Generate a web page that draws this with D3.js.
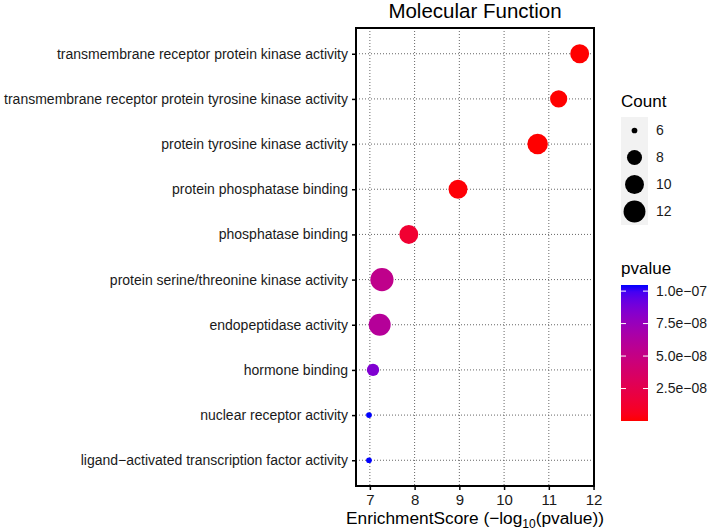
<!DOCTYPE html>
<html>
<head>
<meta charset="utf-8">
<script src="https://cdn.jsdelivr.net/npm/d3@7"></script>
<style>
  body { margin: 0; background: #fff; }
  svg text { font-family: "Liberation Sans", Arial, sans-serif; }
</style>
</head>
<body>
<div id="chart"></div>
<script>
const categories = [
    "transmembrane receptor protein kinase activity",
    "transmembrane receptor protein tyrosine kinase activity",
    "protein tyrosine kinase activity",
    "protein phosphatase binding",
    "phosphatase binding",
    "protein serine/threonine kinase activity",
    "endopeptidase activity",
    "hormone binding",
    "nuclear receptor activity",
    "ligand\u2212activated transcription factor activity"
];
const enrichmentScores = [11.69, 11.22, 10.75, 8.97, 7.87, 7.27, 7.22, 7.07, 6.98, 6.98];
const counts = [10, 9, 11, 10, 10, 13, 12, 7, 6, 6];

const xTicks = [7, 8, 9, 10, 11, 12];
const countBreaks = [6, 8, 10, 12];
const pvalueBreaks = [2.5e-8, 5.0e-8, 7.5e-8, 1.0e-7];
const pvalueLabels = ["2.5e\u221208", "5.0e\u221208", "7.5e\u221208", "1.0e\u221207"];

const data = categories.map((c, i) => ({
    term: c,
    score: enrichmentScores[i],
    count: counts[i],
    pvalue: Math.pow(10, -enrichmentScores[i])
}));

const W = 709, H = 530;
const panel = { left: 356, right: 594, top: 28, bottom: 486 };

const svg = d3.select("#chart").append("svg")
    .attr("width", W)
    .attr("height", H);

const x = d3.scaleLinear()
    .domain([6.69, 12.01])
    .range([panel.left, panel.right]);

const y = d3.scalePoint()
    .domain(categories)
    .range([panel.top, panel.bottom])
    .padding(0.57);

const pExtent = d3.extent(data, d => d.pvalue);
const color = d3.scaleLinear()
    .domain(pExtent)
    .range(["red", "blue"])
    .interpolate(d3.interpolateLab);

// size: ggplot area palette (1..6) on sqrt of rescaled count, then to px
const countMin = 6, countMax = 13;
const sizeOf = d3.scaleLinear()
    .domain([0, 1])
    .range([1, 6]);
const radius = c => 1.75 * sizeOf(Math.sqrt((c - countMin) / (countMax - countMin))) + 1.1;

// grid
const grid = svg.append("g");
grid.selectAll(".vgrid")
    .data(xTicks)
    .enter().append("line")
    .attr("x1", d => x(d)).attr("x2", d => x(d))
    .attr("y1", panel.top).attr("y2", panel.bottom)
    .attr("stroke", "#666")
    .attr("stroke-width", 1)
    .attr("stroke-dasharray", "1,2");

grid.selectAll(".hgrid")
    .data(categories)
    .enter().append("line")
    .attr("x1", panel.left).attr("x2", panel.right)
    .attr("y1", d => y(d)).attr("y2", d => y(d))
    .attr("stroke", "#666")
    .attr("stroke-width", 1)
    .attr("stroke-dasharray", "1,2");

// points
svg.append("g").selectAll("circle")
    .data(data)
    .enter().append("circle")
    .attr("cx", d => x(d.score))
    .attr("cy", d => y(d.term))
    .attr("r", d => radius(d.count))
    .attr("fill", d => color(d.pvalue));

// panel border
svg.append("rect")
    .attr("x", panel.left).attr("y", panel.top)
    .attr("width", panel.right - panel.left)
    .attr("height", panel.bottom - panel.top)
    .attr("fill", "none")
    .attr("stroke", "#000")
    .attr("stroke-width", 2);

// axes
const xAxis = svg.append("g")
    .attr("transform", `translate(0, ${panel.bottom})`)
    .call(d3.axisBottom(x).tickValues(xTicks).tickFormat(d3.format("d")).tickSize(4).tickPadding(4));
xAxis.select(".domain").remove();
xAxis.selectAll("line").attr("stroke", "#000").attr("stroke-width", 1.5);
xAxis.selectAll("text")
    .style("font-size", "15px")
    .attr("fill", "#1a1a1a");

const yAxis = svg.append("g")
    .attr("transform", `translate(${panel.left}, 0)`)
    .call(d3.axisLeft(y).tickSize(4).tickPadding(4));
yAxis.select(".domain").remove();
yAxis.selectAll("line").attr("stroke", "#000").attr("stroke-width", 1.5);
yAxis.selectAll("text")
    .style("font-size", "14px")
    .attr("fill", "#1a1a1a");

// title
svg.append("text")
    .attr("x", (panel.left + panel.right) / 2)
    .attr("y", 18)
    .attr("text-anchor", "middle")
    .style("font-size", "20.5px")
    .attr("fill", "#000")
    .text("Molecular Function");

// x axis title
const xt = svg.append("text")
    .attr("x", (panel.left + panel.right) / 2)
    .attr("y", 524)
    .attr("text-anchor", "middle")
    .style("font-size", "17.3px")
    .attr("fill", "#000");
xt.append("tspan").text("EnrichmentScore (\u2212log");
xt.append("tspan").attr("dy", 4).style("font-size", "12px").text("10");
xt.append("tspan").attr("dy", -4).text("(pvalue))");

// Count legend
const legX = 621;
svg.append("text")
    .attr("x", legX).attr("y", 107)
    .style("font-size", "17px")
    .text("Count");

const keyH = 27, keyTop = 117, keyW = 27;
svg.append("rect")
    .attr("x", legX).attr("y", keyTop)
    .attr("width", keyW).attr("height", keyH * countBreaks.length)
    .attr("fill", "#f2f2f2");

const keys = svg.append("g").selectAll("g")
    .data(countBreaks)
    .enter().append("g")
    .attr("transform", (d, i) => `translate(${legX + keyW / 2}, ${keyTop + keyH * i + keyH / 2})`);
keys.append("circle")
    .attr("r", d => radius(d))
    .attr("fill", "#000");
keys.append("text")
    .attr("x", keyW / 2 + 8)
    .attr("dy", "0.35em")
    .style("font-size", "14px")
    .attr("fill", "#1a1a1a")
    .text(d => d);

// pvalue colorbar
svg.append("text")
    .attr("x", legX).attr("y", 274)
    .style("font-size", "17px")
    .text("pvalue");

const barTop = 285, barBottom = 421, barW = 27;
const barY = d3.scaleLinear().domain(pExtent).range([barBottom, barTop]);

const grad = svg.append("defs").append("linearGradient")
    .attr("id", "pgrad")
    .attr("x1", 0).attr("y1", 1).attr("x2", 0).attr("y2", 0);
d3.range(0, 1.0001, 0.05).forEach(t => {
    const p = pExtent[0] + t * (pExtent[1] - pExtent[0]);
    grad.append("stop").attr("offset", t).attr("stop-color", color(p));
});
svg.append("rect")
    .attr("x", legX).attr("y", barTop)
    .attr("width", barW).attr("height", barBottom - barTop)
    .attr("fill", "url(#pgrad)");

const cTicks = svg.append("g").selectAll("g")
    .data(pvalueBreaks)
    .enter().append("g")
    .attr("transform", d => `translate(0, ${barY(d)})`);
cTicks.append("line")
    .attr("x1", legX).attr("x2", legX + 5)
    .attr("stroke", "#fff").attr("stroke-width", 1);
cTicks.append("line")
    .attr("x1", legX + barW - 5).attr("x2", legX + barW)
    .attr("stroke", "#fff").attr("stroke-width", 1);
cTicks.append("text")
    .attr("x", legX + barW + 8)
    .attr("dy", "0.35em")
    .style("font-size", "14px")
    .attr("fill", "#1a1a1a")
    .text((d, i) => pvalueLabels[i]);
</script>
</body>
</html>
